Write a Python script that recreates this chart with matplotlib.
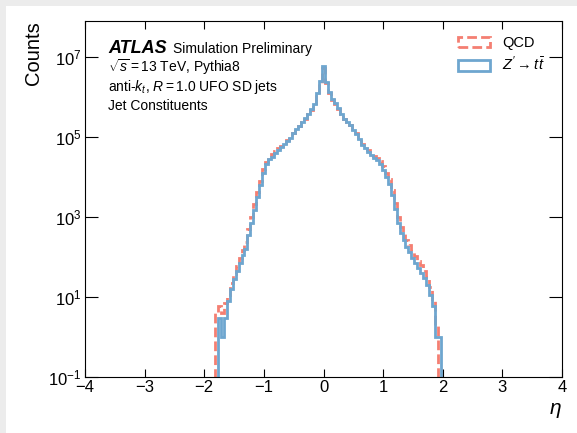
import numpy as np
import matplotlib
matplotlib.use("Agg")
from matplotlib import pyplot as plt
from matplotlib.patches import Rectangle, Patch

plt.rcParams['font.family'] = ['Liberation Sans', 'DejaVu Sans']
plt.rcParams['mathtext.fontset'] = 'custom'
plt.rcParams['mathtext.rm'] = 'Liberation Sans'
plt.rcParams['mathtext.it'] = 'Liberation Sans:italic'
plt.rcParams['mathtext.bf'] = 'Liberation Sans:bold'

# bin centres -2.00 ... 2.00, step 0.05
bin_lo, bin_hi = -2.025, 2.025

# Z' -> ttbar (blue), counts per bin
zprime = [
    0, 0, 0, 0, 0, 3, 1, 3, 8, 16,                       # -2.00 .. -1.55
    28, 45, 70, 110, 160, 350, 700, 1500, 3200, 6300,    # -1.50 .. -1.05
    12500, 21000, 28000, 32000, 40000, 48000, 56000, 66000, 79000, 95000,   # -1.00 .. -0.55
    126000, 158000, 190000, 240000, 295000, 380000, 500000, 660000, 1260000, 2500000,  # -0.50 .. -0.05
    6000000,                                             # 0.00
    2400000, 1320000, 890000, 710000, 525000, 380000, 280000, 240000, 200000, 150000,  # 0.05 .. 0.50
    120000, 89000, 63000, 52000, 43000, 35000, 30000, 26000, 21000, 15000,  # 0.55 .. 1.00
    10000, 6600, 3500, 1600, 700, 400, 260, 180, 130, 95,  # 1.05 .. 1.50
    70, 52, 40, 30, 20, 11, 6, 1, 1, 0,                   # 1.55 .. 2.00
]

# QCD (red dashed)
qcd = [
    0, 0, 0, 0, 4, 6, 4, 7, 11, 22,
    38, 60, 95, 150, 240, 500, 1000, 2100, 4300, 8200,
    15500, 24000, 32000, 37000, 45000, 53000, 61000, 71000, 84000, 100000,
    130000, 160000, 192000, 240000, 290000, 370000, 480000, 640000, 1200000, 2300000,
    5200000,
    2200000, 1250000, 860000, 690000, 515000, 380000, 285000, 245000, 205000, 155000,
    126000, 94000, 68000, 57000, 48000, 40000, 34000, 30000, 25000, 18500,
    13000, 8800, 4800, 2300, 1000, 580, 380, 270, 195, 145,
    108, 80, 62, 46, 32, 18, 9, 2, 0, 0,
]

edges = np.linspace(bin_lo, bin_hi, len(zprime) + 1)

red = '#f47f72'
blue = '#6ea6cf'
dash = (0, (3.5, 1.5))

fig = plt.figure(figsize=(5.77, 4.33), dpi=100)
fig.patch.set_facecolor('#ececec')
fig.add_artist(Rectangle((6/577., 0), 1, 1 - 6/433., transform=fig.transFigure,
                         facecolor='white', edgecolor='none', zorder=-10))

ax = fig.add_axes([85/577., 1 - 377/433., 477/577., 356/433.])
ax.stairs(qcd, edges, color=red, lw=2, ls=dash)
ax.stairs(zprime, edges, color=blue, lw=2)

ax.set_yscale('log')
ax.set_xlim(-4, 4)
ax.set_ylim(0.1, 8e7)
ax.set_yticks([1e-1, 1e1, 1e3, 1e5, 1e7])
ax.minorticks_off()
ax.tick_params(axis='both', which='major', direction='in', top=True, right=True,
               labelsize=12, pad=2.5)
ax.tick_params(axis='y', length=9.5)
ax.tick_params(axis='x', length=6)

ax.set_ylabel('Counts', loc='top', fontsize=14.5)
ax.set_xlabel(r'$\eta$', loc='right', fontsize=15)

ax.text(0.048, 0.909, 'ATLAS', transform=ax.transAxes, fontsize=13,
        fontweight='bold', fontstyle='italic', va='baseline')
ax.text(0.185, 0.909, 'Simulation Preliminary', transform=ax.transAxes,
        fontsize=10, va='baseline')
ax.text(0.048, 0.858, r'$\sqrt{s}=13$ TeV, Pythia8', transform=ax.transAxes,
        fontsize=10, va='baseline')
ax.text(0.048, 0.803, r'anti-$k_{t}$, $R=1.0$ UFO SD jets', transform=ax.transAxes,
        fontsize=10, va='baseline')
ax.text(0.048, 0.750, 'Jet Constituents', transform=ax.transAxes,
        fontsize=10, va='baseline')

handles = [Patch(facecolor='none', edgecolor=red, lw=2, ls=dash, label='QCD'),
           Patch(facecolor='none', edgecolor=blue, lw=2, label=r"$Z' \rightarrow t\bar{t}$")]
ax.legend(handles=handles, loc='upper left', bbox_to_anchor=(0.782, 0.958),
          borderaxespad=0, borderpad=0, frameon=False, fontsize=10.5,
          handlelength=2.2, handleheight=0.75, labelspacing=0.35, handletextpad=0.8)

fig.savefig('out.png', dpi=100)
